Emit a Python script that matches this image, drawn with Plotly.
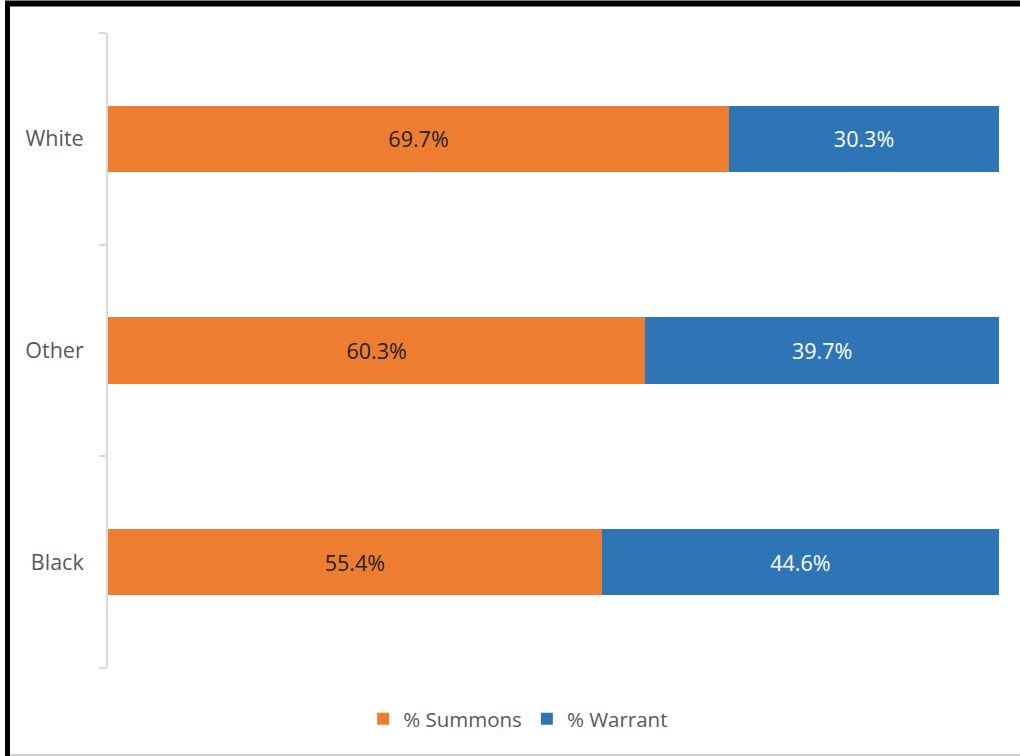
import plotly.graph_objects as go

categories = ["Black", "Other", "White"]
summons = [55.4, 60.3, 69.7]
warrant = [44.6, 39.7, 30.3]
series_names = ["% Summons", "% Warrant"]

ORANGE = "#ED7D31"
BLUE = "#2E75B6"
FONT = "Open Sans"
FS = 21.5

W, H = 1020, 756
L, R, T, B = 108, 21, 33, 88
pw, ph = W - L - R, H - T - B

fig = go.Figure()
fig.add_trace(go.Bar(
    y=categories, x=[v / 100 for v in summons], orientation="h",
    name=series_names[0], marker=dict(color=ORANGE, line=dict(width=0)),
    text=[f"{v:.1f}%" for v in summons], textposition="inside",
    insidetextanchor="middle", textfont=dict(color="#222222", size=FS, family=FONT),
    hoverinfo="skip",
))
fig.add_trace(go.Bar(
    y=categories, x=[v / 100 for v in warrant], orientation="h",
    name=series_names[1], marker=dict(color=BLUE, line=dict(width=0)),
    text=[f"{v:.1f}%" for v in warrant], textposition="inside",
    insidetextanchor="middle", textfont=dict(color="#FFFFFF", size=FS, family=FONT),
    hoverinfo="skip",
))

def px_x(x):
    return (x - L) / pw

def px_y(y):
    return 1 - (y - T) / ph

shapes = [
    dict(type="line", xref="paper", yref="paper", x0=px_x(5), x1=px_x(1020), y0=px_y(3.5), y1=px_y(3.5),
         line=dict(color="black", width=6)),
    dict(type="line", xref="paper", yref="paper", x0=px_x(7.5), x1=px_x(7.5), y0=px_y(1), y1=px_y(756),
         line=dict(color="black", width=5)),
    dict(type="line", xref="paper", yref="paper", x0=px_x(10), x1=px_x(1020), y0=px_y(755), y1=px_y(755),
         line=dict(color="#D0D0D0", width=2)),
]

fig.update_layout(
    width=W, height=H,
    margin=dict(l=L, r=R, t=T, b=B),
    barmode="stack", bargap=0.688,
    plot_bgcolor="white", paper_bgcolor="white",
    font=dict(family=FONT, size=FS, color="#595959"),
    showlegend=True,
    legend=dict(orientation="h", xref="container", yref="container", x=0.508, y=0.049,
                xanchor="center", yanchor="middle", font=dict(size=20.5, color="#595959"),
                traceorder="normal", itemwidth=30),
    xaxis=dict(range=[0, 1], visible=False, fixedrange=True),
    yaxis=dict(showline=True, linecolor="#D9D9D9", linewidth=2, ticks="outside",
               tickson="boundaries", ticklen=7, tickcolor="#D9D9D9", tickwidth=2,
               showgrid=False, zeroline=False, ticklabelstandoff=18,
               tickfont=dict(size=FS, color="#595959", family=FONT), fixedrange=True),
    hovermode=False,
    shapes=shapes,
)

fig.write_html("out.html", config={"displayModeBar": False, "staticPlot": True},
               post_script="document.body.style.margin='0';document.body.style.overflow='hidden';")
